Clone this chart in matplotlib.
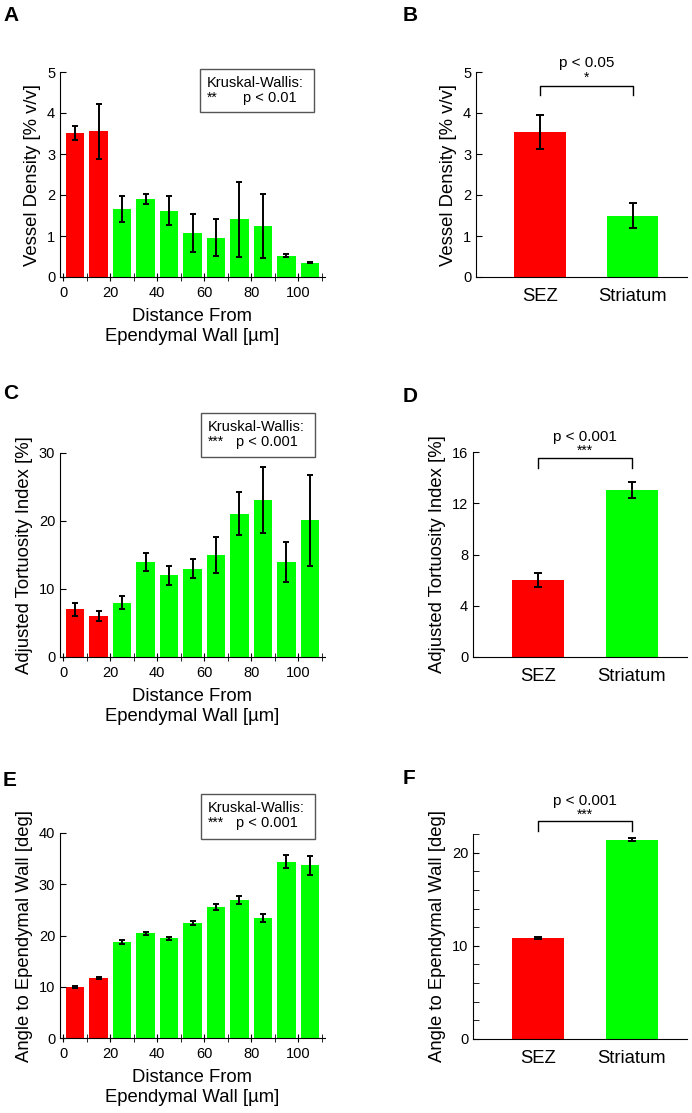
import numpy as np
import matplotlib
matplotlib.use("Agg")
import matplotlib.pyplot as plt
from matplotlib.patches import Rectangle

plt.rcParams['font.family'] = ['Liberation Sans', 'DejaVu Sans']

# distance bins (centres, µm)
dist = [5, 15, 25, 35, 45, 55, 65, 75, 85, 95, 105]
groups = ["SEZ", "Striatum"]

# A / B: vessel density
dens = [3.51, 3.56, 1.65, 1.91, 1.62, 1.07, 0.96, 1.41, 1.24, 0.52, 0.35]
dens_err = [0.18, 0.67, 0.32, 0.12, 0.36, 0.47, 0.45, 0.91, 0.78, 0.03, 0.02]
dens_grp = [3.53, 1.50]
dens_grp_err = [0.41, 0.30]

# C / D: adjusted tortuosity index
tort = [7.0, 6.0, 8.0, 14.0, 12.0, 13.0, 15.0, 21.1, 23.1, 14.0, 20.1]
tort_err = [1.0, 0.7, 1.0, 1.35, 1.45, 1.45, 2.7, 3.15, 4.85, 2.9, 6.65]
tort_grp = [6.0, 13.0]
tort_grp_err = [0.55, 0.62]

# E / F: angle to ependymal wall
angle = [9.9, 11.7, 18.8, 20.4, 19.5, 22.5, 25.6, 27.0, 23.4, 34.4, 33.7]
angle_err = [0.2, 0.2, 0.4, 0.3, 0.3, 0.4, 0.6, 0.8, 0.8, 1.25, 1.85]
angle_grp = [10.85, 21.4]
angle_grp_err = [0.12, 0.12]

RED = "#ff0000"
GREEN = "#00ff00"
W, H = 692, 1113
fig = plt.figure(figsize=(W / 100, H / 100), dpi=100)


def box(l, r, t, b):
    return [l / W, 1 - b / H, (r - l) / W, (b - t) / H]


def fx(x):
    return x / W


def fy(y):
    return 1 - y / H


def style(ax):
    for s in ["top", "right"]:
        ax.spines[s].set_visible(False)
    ax.tick_params(axis="y", direction="in", length=4, labelsize=10.5)


def dist_panel(pos, vals, errs, ylim, yticks, ylabel, stars, ptxt, kbox):
    ax = fig.add_axes(box(*pos))
    cols = [RED if d < 20 else GREEN for d in dist]
    ax.bar(dist, vals, width=8, color=cols, edgecolor="none")
    ax.errorbar(dist, vals, yerr=errs, fmt="none", ecolor="black",
                elinewidth=1.4, capsize=2.5, capthick=1.4)
    style(ax)
    ax.set_xlim(-1.4, 111.4)
    ax.set_ylim(*ylim)
    ax.set_yticks(yticks)
    ax.set_xticks(range(0, 101, 20))
    ax.set_xticks(range(10, 111, 20), minor=True)
    ax.tick_params(axis="x", which="both", direction="inout", length=6, labelsize=10.5)
    ax.set_ylabel(ylabel, fontsize=13.3)
    ax.set_xlabel("Distance From\nEpendymal Wall [µm]", fontsize=13.3, labelpad=6)
    l, r, t, b = kbox
    fig.patches.append(Rectangle((fx(l), fy(b)), (r - l) / W, (b - t) / H,
                                 transform=fig.transFigure, fill=False,
                                 edgecolor="#555555", linewidth=1))
    fig.text(fx(l + 7), fy(t + 14), "Kruskal-Wallis:", fontsize=10.5, va="center")
    fig.text(fx(l + 7), fy(t + 29), stars, fontsize=10, va="center")
    fig.text(fx(r - 17), fy(t + 29), ptxt, fontsize=10.5, va="center", ha="right")
    return ax


def grp_panel(pos, vals, errs, ylim, yticks, ylabel, brk, stars, ptxt):
    ax = fig.add_axes(box(*pos))
    ax.bar([1, 2], vals, width=0.55, color=[RED, GREEN], edgecolor="none")
    ax.errorbar([1, 2], vals, yerr=errs, fmt="none", ecolor="black",
                elinewidth=1.4, capsize=3, capthick=1.4)
    style(ax)
    ax.set_xlim(0.31, 2.585)
    ax.set_ylim(*ylim)
    ax.set_yticks(yticks)
    ax.set_xticks([1, 2])
    ax.set_xticklabels(groups, fontsize=13.3)
    ax.tick_params(axis="x", length=0, pad=8)
    ax.set_ylabel(ylabel, fontsize=13.3)
    top, end, ys, yp = brk
    ax.plot([1, 1, 2, 2], [end, top, top, end], color="black", lw=1, clip_on=False)
    ax.text(1.5, ys, stars, ha="center", va="center", fontsize=10, clip_on=False)
    ax.text(1.5, yp, ptxt, ha="center", va="center", fontsize=11, clip_on=False)
    return ax


dist_panel((60, 325, 72, 277), dens, dens_err, (0, 5), range(0, 6),
           "Vessel Density [% v/v]", "**", "p < 0.01", (200, 314, 69, 112))
grp_panel((476, 687, 72, 277), dens_grp, dens_grp_err, (0, 5), range(0, 6),
          "Vessel Density [% v/v]", (4.66, 4.43, 4.86, 5.22), "*", "p < 0.05")

dist_panel((60, 325, 453, 657), tort, tort_err, (0, 30), [0, 10, 20, 30],
           "Adjusted Tortuosity Index [%]", "***", "p < 0.001", (201, 315, 413, 457))
grp_panel((473, 687, 452, 657), tort_grp, tort_grp_err, (0, 16), [0, 4, 8, 12, 16],
          "Adjusted Tortuosity Index [%]", (15.55, 14.78, 16.1, 17.2), "***", "p < 0.001")

dist_panel((60, 325, 833, 1038), angle, angle_err, (0, 40), [0, 10, 20, 30, 40],
           "Angle to Ependymal Wall [deg]", "***", "p < 0.001", (201, 315, 794, 839))
axf = grp_panel((473, 687, 834, 1039), angle_grp, angle_grp_err, (0, 22), [0, 10, 20],
                "Angle to Ependymal Wall [deg]", (23.35, 22.3, 24.1, 25.5), "***", "p < 0.001")
axf.set_yticks(range(0, 23, 2), minor=True)
axf.tick_params(axis="y", which="minor", direction="in", length=4)

for lab, x, y in [("A", 3, 6), ("B", 403, 6), ("C", 3, 384), ("D", 403, 387),
                  ("E", 3, 771), ("F", 403, 769)]:
    fig.text(fx(x), fy(y), lab, fontsize=15, fontweight="bold", va="top")

fig.savefig("out.png", dpi=100)
